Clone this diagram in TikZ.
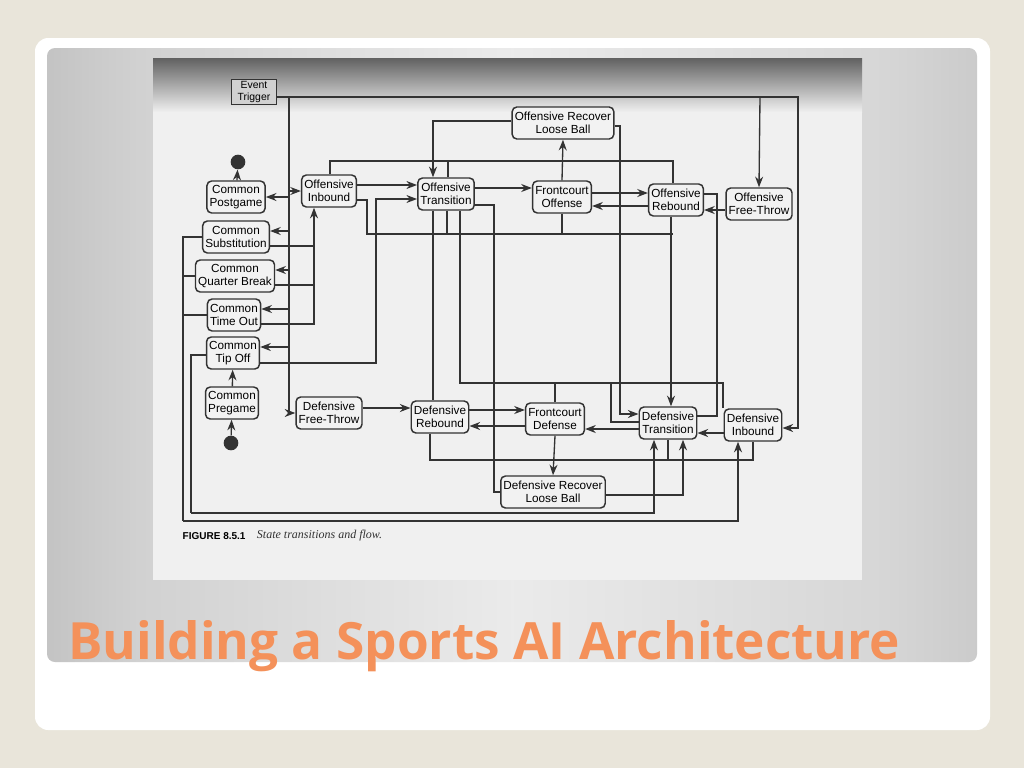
\documentclass[tikz,border=0pt]{standalone}
\usepackage{fontspec}
\setmainfont{Liberation Sans}
\newfontfamily\titlefont{Open Sans}
\usetikzlibrary{arrows.meta}
\definecolor{slidebg}{HTML}{E9E5DA}
\definecolor{ttl}{HTML}{F4915A}
\definecolor{ink}{HTML}{333333}
\pgfdeclarehorizontalshading{panel}{100bp}{color(0bp)=(black!50);color(30bp)=(black!18);color(50bp)=(black!8);color(70bp)=(black!16);color(100bp)=(black!42)}
\begin{document}
\begin{tikzpicture}[x=0.75pt,y=-0.75pt,
  st/.style={draw=ink,line width=1.1pt,rounded corners=3.5pt,fill=black!5,align=center,
    font=\fontsize{8.8}{10}\selectfont,inner sep=2pt,minimum height=24pt},
  ln/.style={draw=ink,line width=1pt},
  ar/.style={ln,-{Stealth[length=8pt,width=6pt]}},
  dot/.style={circle,fill=ink,minimum size=11pt,inner sep=0pt}]
\useasboundingbox (0,0) rectangle (1024,768);
\fill[slidebg] (0,0) rectangle (1024,768);
\fill[white,rounded corners=10pt] (35,38) rectangle (990,730);
\shade[shading=panel,rounded corners=6pt] (47,48) rectangle (977,662);
\fill[black!6] (153,58) rectangle (862,580);
\shade[top color=black!62,bottom color=black!6] (153,58) rectangle (862,112);
% nodes
\node[draw=ink,fill=black!18,line width=1pt,align=center,font=\fontsize{7.8}{8.5}\selectfont,inner sep=1.5pt,minimum width=34pt,minimum height=19pt] (ET) at (254,92) {Event\\Trigger};
\node[dot] (d1) at (238,162) {};
\node[st,minimum width=42pt] (CPG) at (236,197) {Common\\Postgame};
\node[st] (CS) at (236,237) {Common\\Substitution};
\node[st] (CQB) at (235,276) {Common\\Quarter Break};
\node[st,minimum width=38pt] (CTO) at (234,315) {Common\\Time Out};
\node[st,minimum width=38pt] (CTF) at (233,353) {Common\\Tip Off};
\node[st,minimum width=38pt] (CPR) at (232,403) {Common\\Pregame};
\node[dot] (d2) at (231,443) {};
\node[st] (OI) at (329,191) {Offensive\\Inbound};
\node[st] (OT) at (446,194) {Offensive\\Transition};
\node[st] (FO) at (562,197) {Frontcourt\\Offense};
\node[st] (OR) at (676,200) {Offensive\\Rebound};
\node[st] (OFT) at (759,204) {Offensive\\Free-Throw};
\node[st] (ORL) at (563,123) {Offensive Recover\\Loose Ball};
\node[st] (DFT) at (329,413) {Defensive\\Free-Throw};
\node[st] (DR) at (440,417) {Defensive\\Rebound};
\node[st] (FD) at (555,419) {Frontcourt\\Defense};
\node[st] (DT) at (668,423) {Defensive\\Transition};
\node[st] (DI) at (753,425) {Defensive\\Inbound};
\node[st] (DRL) at (553,492) {Defensive Recover\\Loose Ball};
\node[anchor=west,font=\fontsize{7.5}{9}\selectfont\bfseries] (cap) at (178,536) {FIGURE 8.5.1};
\node[anchor=west,font=\fontsize{9}{9}\selectfont,text=black!80] (cap2) at (cap.east) {\,\fontspec{Liberation Serif}\itshape State transitions and flow.};
% start / end
\draw[ar] (CPG) -- (d1);
\draw[ar] (d2) -- (CPR);
\draw[ar] (CPR) -- (CTF);
% event trigger
\draw[ar] (ET.east|-0,97) -- (798,97) -- (798,428) -- (DI.east|-0,428);
\draw[ar] (760,97) -- (OFT.north);
\draw[ar] (289,97) -- (289,413) -- (DFT.west|-0,413);
\draw[ar] (289,191) -- (OI.west|-0,191);
\draw[ar] (289,197) -- (CPG.east|-0,197);
\draw[ar] (289,231) -- (CS.east|-0,231);
\draw[ar] (289,270) -- (CQB.east|-0,270);
\draw[ar] (289,309) -- (CTO.east|-0,309);
\draw[ar] (289,347) -- (CTF.east|-0,347);
% commons into offensive inbound
\draw[ln] (CS.east|-0,246) -- (314,246);
\draw[ln] (CQB.east|-0,285) -- (314,285);
\draw[ar] (CTO.east|-0,324) -- (314,324) -- (OI.south-|314,0);
\draw[ar] (CTF.east|-0,363) -- (376,363) -- (376,199) -- (OT.west|-0,199);
% left buses
\draw[ln] (CS.west|-0,237) -- (183,237) -- (183,521);
\draw[ln] (CQB.west|-0,276) -- (183,276);
\draw[ln] (CTO.west|-0,315) -- (183,315);
\draw[ar] (183,521) -- (738,521) -- (DI.south-|738,0);
\draw[ln] (CTF.west|-0,355) -- (191,355) -- (191,513);
\draw[ar] (191,513) -- (654,513) -- (DT.south-|654,0);
% offensive side
\draw[ar] (OI.east|-0,185) -- (OT.west|-0,185);
\draw[ar] (OT.east|-0,188) -- (FO.west|-0,188);
\draw[ar] (FO.east|-0,193) -- (OR.west|-0,193);
\draw[ar] (OR.west|-0,206) -- (FO.east|-0,206);
\draw[ar] (OFT.west|-0,210) -- (OR.east|-0,210);
\draw[ar] (FO.north) -- (ORL.south);
\draw[ar] (ORL.west|-0,121) -- (433,121) -- (OT.north-|433,0);
\draw[ln] (OI.north-|330,0) -- (330,161) -- (673,161) -- (OR.north-|673,0);
\draw[ln] (OT.north-|448,0) -- (448,161);
\draw[ln] (OI.east|-0,200) -- (367,200) -- (367,234) -- (673,234);
\draw[ln] (OT.south-|447,0) -- (447,234);
\draw[ln] (FO.south) -- (562,234);
\draw[ar] (OR.south-|671,0) -- (DT.north-|671,0);
\draw[ar] (ORL.east|-0,126) -- (620,126) -- (620,414) -- (DT.west|-0,414);
\draw[ln] (OR.east|-0,194) -- (717,194) -- (717,416) -- (DT.east|-0,416);
% crossing verticals
\draw[ln] (OT.south-|433,0) -- (DR.north-|433,0);
\draw[ln] (OT.south-|460,0) -- (460,383) -- (723,383) -- (DI.north west-|723,0);
\draw[ln] (611,383) -- (611,422) -- (DT.west|-0,422);
\draw[ln] (OT.east|-0,205) -- (494,205) -- (494,492) -- (DRL.west|-0,492);
% defensive side
\draw[ar] (DFT.east|-0,408) -- (DR.west|-0,408);
\draw[ar] (DR.east|-0,410) -- (FD.west|-0,410);
\draw[ar] (FD.west|-0,426) -- (DR.east|-0,426);
\draw[ar] (DT.west|-0,429) -- (FD.east|-0,429);
\draw[ar] (DI.west|-0,433) -- (DT.east|-0,433);
\draw[ar] (FD.south) -- (DRL.north);
\draw[ln] (FD.north) -- (555,383);
\draw[ln] (DR.south-|430,0) -- (430,460) -- (753,460) -- (DI.south-|753,0);
\draw[ln] (DT.south-|668,0) -- (668,460);
\draw[ar] (DRL.east|-0,495) -- (683,495) -- (DT.south-|683,0);
% title
\node[anchor=base west,text=ttl,inner sep=0pt] (title) at (68,659) {\resizebox{624pt}{!}{\titlefont\bfseries Building a Sports AI Architecture}};
\end{tikzpicture}
\end{document}
